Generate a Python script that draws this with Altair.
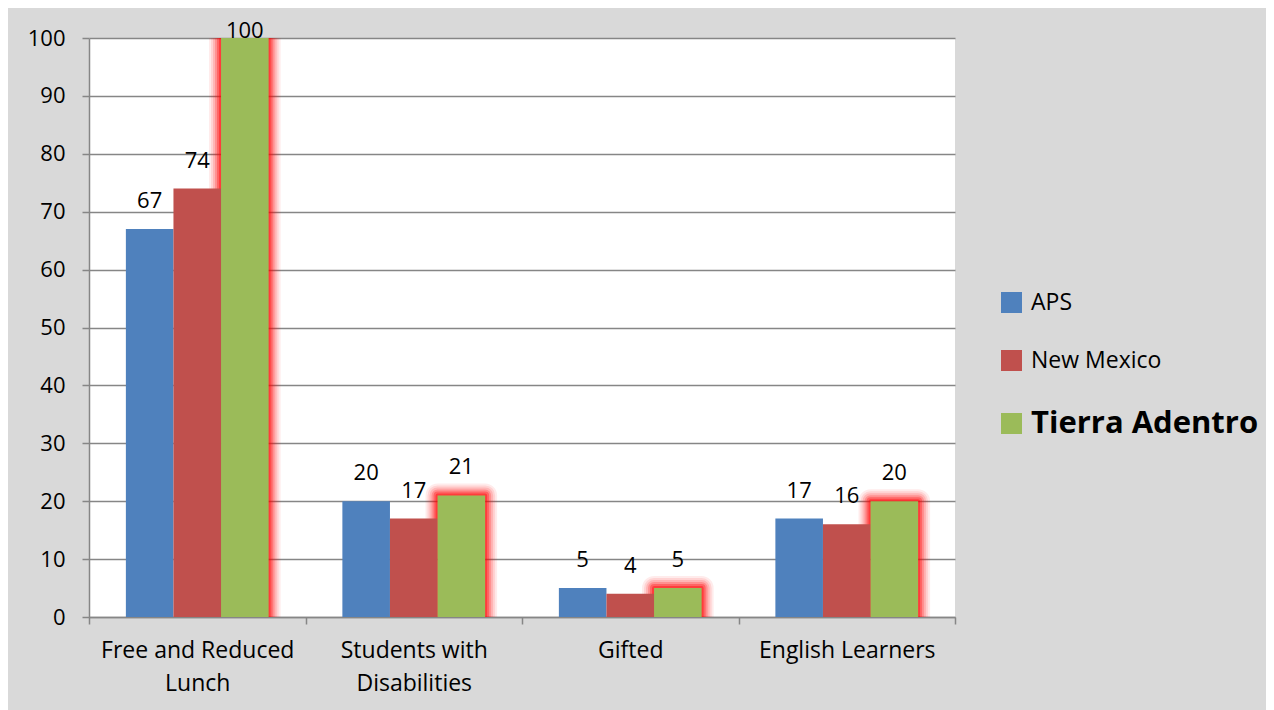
import altair as alt
import pandas as pd

categories = ["Free and Reduced Lunch", "Students with Disabilities", "Gifted", "English Learners"]
series = ["APS", "New Mexico", "Tierra Adentro"]
aps = [67, 20, 5, 17]
new_mexico = [74, 17, 4, 16]
tierra_adentro = [100, 21, 5, 20]
colors = ["#4F81BD", "#C0504D", "#9BBB59"]

rows = []
for s, vals in zip(series, [aps, new_mexico, tierra_adentro]):
    for c, v in zip(categories, vals):
        rows.append({"category": c, "series": s, "value": v})
df = pd.DataFrame(rows)

FONT = "Open Sans"

x_enc = alt.X("category:N", sort=categories, title=None,
              scale=alt.Scale(paddingInner=0, paddingOuter=0),
              axis=alt.Axis(
                  labelAngle=0, tickBand="extent", tickSize=7, tickColor="#868686",
                  tickWidth=1.5, domainColor="#868686", domainWidth=1.5,
                  labelFont=FONT, labelFontSize=23, labelColor="#000000",
                  labelPadding=15, labelLineHeight=33, labelLimit=400, grid=False,
                  labelExpr="datum.label == 'Free and Reduced Lunch' ? ['Free and Reduced', 'Lunch'] : datum.label == 'Students with Disabilities' ? ['Students with', 'Disabilities'] : datum.label"))
xo_enc = alt.XOffset("series:N", sort=series,
                     scale=alt.Scale(paddingInner=0, paddingOuter=0.775))
y_enc = alt.Y("value:Q", title=None,
              scale=alt.Scale(domain=[0, 100], nice=False),
              axis=alt.Axis(values=list(range(0, 101, 10)), tickSize=7, tickColor="#868686",
                            tickWidth=1.5, domainColor="#868686", domainWidth=1.5,
                            gridColor="#868686", gridWidth=1.5,
                            labelFont=FONT, labelFontSize=22, labelColor="#000000",
                            labelPadding=17))

base = alt.Chart(df).encode(x=x_enc, xOffset=xo_enc, y=y_enc)

glow_src = base.transform_filter(alt.datum.series == "Tierra Adentro")
glows = []
for w, op in [(24, 0.08), (20, 0.10), (16, 0.14), (12, 0.2), (8, 0.3), (4, 0.4)]:
    glows.append(glow_src.mark_bar(fillOpacity=0, stroke="#FF0000", strokeWidth=w,
                                   strokeOpacity=op, strokeJoin="round", clip=True))

bars = base.mark_bar().encode(
    color=alt.Color("series:N", sort=series,
                    scale=alt.Scale(domain=series, range=colors),
                    legend=alt.Legend(
                        title=None, orient="none", legendX=911, legendY=253,
                        symbolType="square", symbolSize=441, symbolStrokeWidth=0,
                        rowPadding=34, labelFont=FONT, labelColor="#000000",
                        labelFontSize=alt.ExprRef("datum.label == 'Tierra Adentro' ? 31 : 23"),
                        labelFontWeight=alt.ExprRef("datum.label == 'Tierra Adentro' ? 'bold' : 'normal'"),
                        labelOffset=8, labelLimit=400))
)

labels = base.mark_text(baseline="alphabetic", dy=alt.ExprRef("datum.value >= 100 ? 0 : -21"),
                        font=FONT, fontSize=22, color="#000000").encode(
    text=alt.Text("value:Q")
)

chart = alt.layer(*glows, bars, labels).properties(
    width=866, height=579,
    background="#D9D9D9",
    padding={"left": 81, "top": 30, "right": 311, "bottom": 93},
    autosize=alt.AutoSizeParams(type="none"),
).configure_view(fill="#FFFFFF", stroke=None)

chart.save("out.html", embed_options={"renderer": "svg", "actions": False})
